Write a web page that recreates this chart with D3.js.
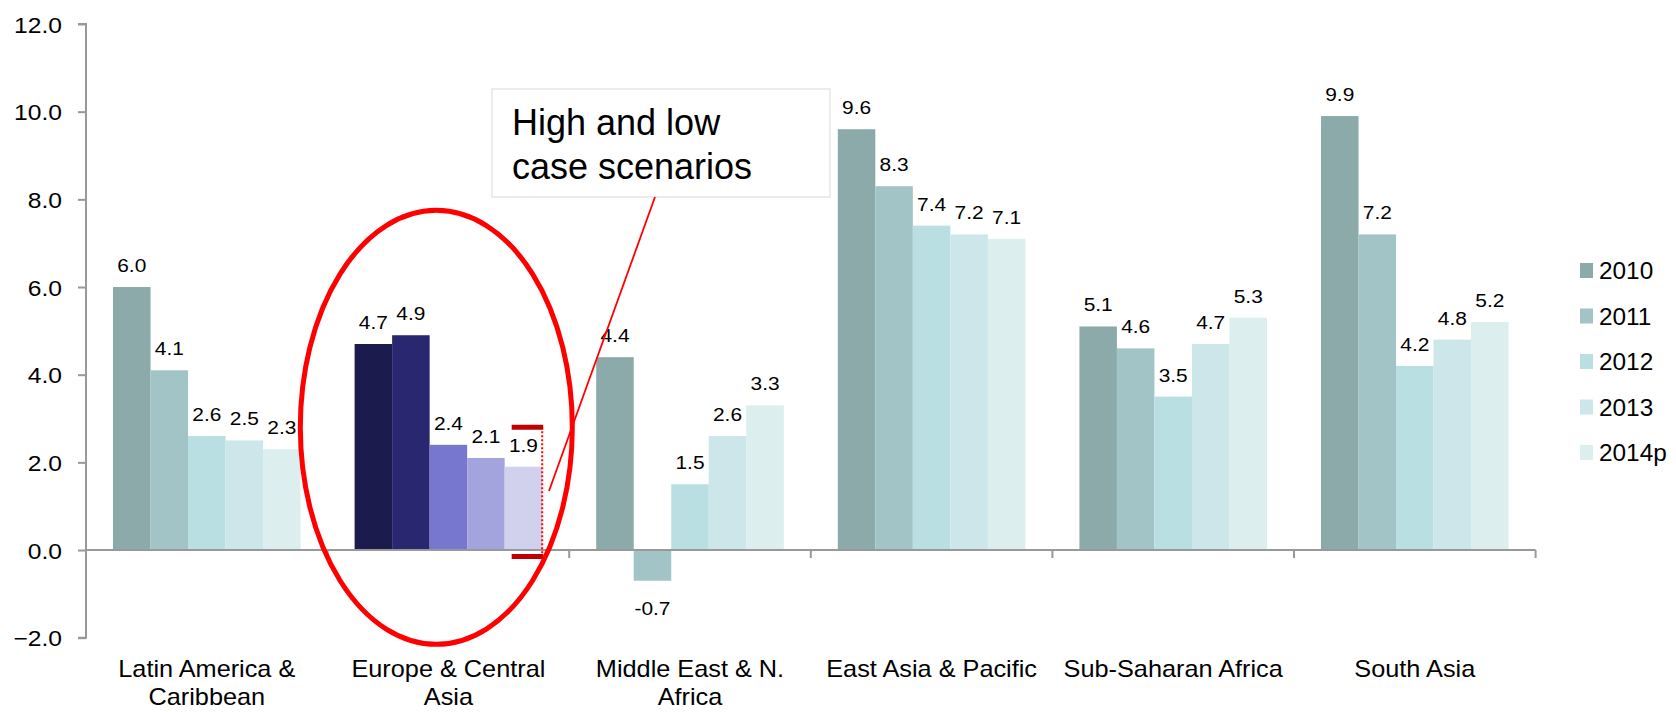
<!DOCTYPE html>
<html>
<head>
<meta charset="utf-8">
<script src="https://cdn.jsdelivr.net/npm/d3@7"></script>
<style>
  html, body { margin: 0; padding: 0; background: #fff; }
  svg text { font-family: "Liberation Sans", Arial, Helvetica, sans-serif; fill: #000; }
</style>
</head>
<body>
<svg id="chart" width="1676" height="712"></svg>
<script>
// Regional GDP growth, %
const regions = ["Latin America &\nCaribbean", "Europe & Central\nAsia", "Middle East & N.\nAfrica",
                 "East Asia & Pacific", "Sub-Saharan Africa", "South Asia"];
const years = ["2010", "2011", "2012", "2013", "2014p"];
const growth2010 = [6.0, 4.7, 4.4, 9.6, 5.1, 9.9];
const growth2011 = [4.1, 4.9, -0.7, 8.3, 4.6, 7.2];
const growth2012 = [2.6, 2.4, 1.5, 7.4, 3.5, 4.2];
const growth2013 = [2.5, 2.1, 2.6, 7.2, 4.7, 4.8];
const growth2014 = [2.3, 1.9, 3.3, 7.1, 5.3, 5.2];
const yTicks = [-2, 0, 2, 4, 6, 8, 10, 12];

// Europe & Central Asia 2014p scenario range
const scenarioHigh = 2.8;
const scenarioLow = -0.15;
const calloutText = ["High and low", "case scenarios"];
const highlightRegion = "Europe & Central\nAsia";

const seriesColors = ["#8DAAAB", "#A3C4C6", "#B9DFE2", "#CDE6E9", "#DCEEEE"];
const highlightColors = ["#1C1B4D", "#28276F", "#7777D0", "#A3A3DD", "#D1D1EE"];

const series = [growth2010, growth2011, growth2012, growth2013, growth2014];

const svg = d3.select("#chart");

const x0 = d3.scaleBand().domain(regions).range([86, 1535.6]).paddingInner(0).paddingOuter(0);
const x1 = d3.scaleBand().domain(years).range([0, x0.bandwidth()]).paddingInner(0).paddingOuter(0.72);
const y = d3.scaleLinear().domain([-2, 12]).range([637.7, 24]);

// horizontally widened text helper
function stretchText(sel, x, yy, sx) {
  return sel.attr("transform", `translate(${x},${yy}) scale(${sx},1)`);
}

// Bars
const gBars = svg.append("g");
regions.forEach((r, ri) => {
  years.forEach((yr, si) => {
    const v = series[si][ri];
    const isHi = r === highlightRegion;
    gBars.append("rect")
      .attr("x", x0(r) + x1(yr))
      .attr("width", x1.bandwidth())
      .attr("y", y(Math.max(0, v)))
      .attr("height", Math.abs(y(v) - y(0)))
      .attr("fill", isHi ? highlightColors[si] : seriesColors[si]);
  });
});

// Y axis
const yAxis = d3.axisLeft(y).tickValues(yTicks).tickSize(8).tickFormat(d3.format(".1f"));
const gy = svg.append("g").attr("transform", "translate(86,0)").call(yAxis);
gy.select(".domain").attr("stroke", "#999").attr("stroke-width", 2).attr("d", `M-8,${y(12)}H0V${y(-2)}H-8`);
gy.selectAll(".tick line").attr("stroke", "#999").attr("stroke-width", 2);
gy.selectAll(".tick text").each(function(d) {
  const t = d3.select(this);
  t.attr("x", null).attr("dy", null)
   .attr("font-size", 22).attr("text-anchor", "end").attr("dominant-baseline", "central");
  stretchText(t, -24, 0.5, 1.12);
});

// X axis (at zero line) with boundary ticks
const gx = svg.append("g");
gx.append("line").attr("x1", 86).attr("x2", 1535.6).attr("y1", y(0)).attr("y2", y(0))
  .attr("stroke", "#999").attr("stroke-width", 2);
regions.forEach((r, i) => {
  const xb = x0(r) + x0.bandwidth();
  gx.append("line").attr("x1", xb).attr("x2", xb).attr("y1", y(0)).attr("y2", y(0) + 8)
    .attr("stroke", "#999").attr("stroke-width", 2);
});

// Category labels
regions.forEach(r => {
  const cx = x0(r) + x0.bandwidth() / 2;
  r.split("\n").forEach((line, li) => {
    const t = svg.append("text").attr("font-size", 23).attr("text-anchor", "middle").text(line);
    stretchText(t, cx, 677 + li * 28, 1.1);
  });
});

// Value labels
regions.forEach((r, ri) => {
  years.forEach((yr, si) => {
    const v = series[si][ri];
    const cx = x0(r) + x1(yr) + x1.bandwidth() / 2;
    const yy = v >= 0 ? y(v) - 15 : y(v) + 34;
    const t = svg.append("text").attr("font-size", 19).attr("text-anchor", "middle").text(v.toFixed(1));
    stretchText(t, cx, yy, 1.1);
  });
});

// Legend
const gLeg = svg.append("g");
years.forEach((yr, i) => {
  const cy = 270.5 + i * 45.5;
  gLeg.append("rect").attr("x", 1580).attr("y", cy - 7.5).attr("width", 13).attr("height", 15)
    .attr("fill", seriesColors[i]);
  const t = gLeg.append("text").attr("font-size", 23).text(yr);
  stretchText(t, 1599, cy + 8.5, 1.06);
});

// Scenario range marker on Europe & Central Asia 2014p
const hiX = x0(highlightRegion) + x1("2014p");
const hiW = x1.bandwidth();
svg.append("line")
  .attr("x1", hiX + hiW).attr("x2", hiX + hiW)
  .attr("y1", y(scenarioHigh)).attr("y2", y(scenarioLow))
  .attr("stroke", "#FF0000").attr("stroke-width", 2).attr("stroke-dasharray", "2,2");
[scenarioHigh, scenarioLow].forEach(v => {
  svg.append("line")
    .attr("x1", hiX + 7).attr("x2", hiX + hiW + 1)
    .attr("y1", y(v)).attr("y2", y(v))
    .attr("stroke", "#C00000").attr("stroke-width", 5);
});

// Highlight ellipse around the region
svg.append("ellipse")
  .attr("cx", x0(highlightRegion) + x0.bandwidth() * 0.45)
  .attr("cy", y(2.8))
  .attr("rx", 136).attr("ry", 217)
  .attr("fill", "none").attr("stroke", "#FF0000").attr("stroke-width", 5);

// Callout box
svg.append("rect").attr("x", 492).attr("y", 89).attr("width", 338).attr("height", 108)
  .attr("fill", "#fff").attr("stroke", "#E6E6E6").attr("stroke-width", 1.5);
calloutText.forEach((line, i) => {
  svg.append("text").attr("x", 512).attr("y", 135 + i * 44).attr("font-size", 36).text(line);
});
svg.append("line").attr("x1", 655).attr("y1", 197).attr("x2", 549).attr("y2", 491)
  .attr("stroke", "#FF0000").attr("stroke-width", 1.8);
</script>
</body>
</html>
